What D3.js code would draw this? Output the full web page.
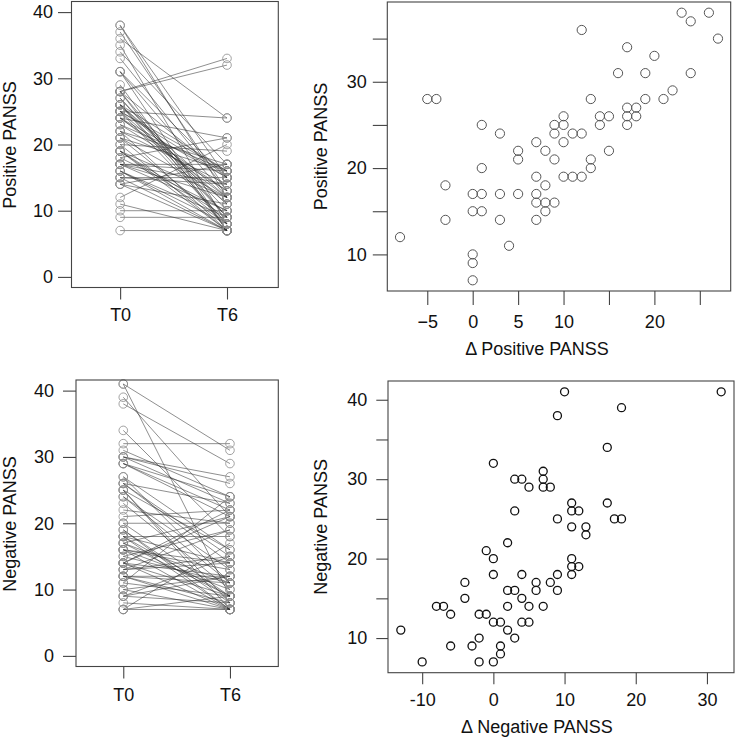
<!DOCTYPE html>
<html>
<head>
<meta charset="utf-8">
<script src="https://cdn.jsdelivr.net/npm/d3@7"></script>
<style>
  html, body { margin: 0; padding: 0; background: #fff; }
  svg { display: block; }
  text { font-family: "Liberation Sans", Arial, Helvetica, sans-serif; fill: #111; }
</style>
</head>
<body>
<svg id="chart" width="735" height="739"></svg>
<script>
// ---------- DATA ----------
// Positive PANSS: baseline score (T0) and change (T0 - T6)
const posT0    = [38,38,37,35,36,34,33,31,31,31,29,28,28,28,28,28,27,27,26,26,26,26,26,25,25,25,25,25,24,24,24,24,23,23,22,22,22,21,21,21,20,20,19,19,19,19,18,18,17,17,17,17,17,16,16,16,15,15,15,14,14,14,12,11,10,9,7];
const posDelta = [23,26,24,27,12,17,20,16,19,24,22,-5,-4,13,19,21,17,18,17,18,14,15,10,17,14,1,9,10,9,11,12,3,10,7,5,8,15,5,9,13,13,1,7,10,11,12,-3,8,0,1,3,5,7,7,8,9,0,1,8,-3,3,7,-8,4,0,0,0];
// Negative PANSS: baseline score (T0) and change (T0 - T6)
const negT0    = [41,41,39,38,34,32,31,30,30,30,29,29,29,27,27,26,26,26,25,25,25,24,24,23,22,21,20,20,19,19,18,18,18,18,17,17,17,16,16,16,16,15,15,14,14,14,14,14,13,13,13,12,12,12,12,11,11,10,10,9,9,9,8,7,7,7];
const negDelta = [10,32,18,9,16,0,7,3,4,7,5,7,8,11,16,11,12,3,9,17,18,11,13,13,2,-1,0,11,11,12,0,4,9,11,-4,6,8,2,3,6,9,-4,4,-8,-7,2,5,7,-6,-2,-1,0,1,4,5,-13,2,-2,3,-6,-3,1,1,-10,-2,0];

const timeLabels = ["T0", "T6"];
const leftYTicks = [0, 10, 20, 30, 40];
const posXTicks = [-5, 0, 5, 10, 15, 20, 25];
const posXLabels = [-5, 0, 5, 10, 20];
const posYTicks = [10, 15, 20, 25, 30, 35];
const posYLabels = [10, 20, 30];
const negXTicks = [-10, 0, 10, 20, 30];
const negYTicks = [10, 15, 20, 25, 30, 35, 40];
const negYLabels = [10, 20, 30, 40];

// ---------- LAYOUT ----------
const svg = d3.select("#chart");
const FONT = 18;

function box(g, b) {
  g.append("rect").attr("x", b.x0).attr("y", b.y0)
    .attr("width", b.x1 - b.x0).attr("height", b.y1 - b.y0)
    .attr("fill", "none").attr("stroke", "#444").attr("stroke-width", 1.1);
}

function styleAxis(sel) {
  sel.select(".domain").remove();
  sel.selectAll(".tick line").attr("stroke", "#444").attr("stroke-width", 1.1);
  sel.selectAll(".tick text").style("font-size", FONT + "px")
    .style("font-family", "'Liberation Sans', Arial, sans-serif").attr("fill", "#111");
}

function yLabel(text, x, y) {
  svg.append("text").attr("transform", `translate(${x},${y}) rotate(-90)`)
    .attr("text-anchor", "middle").style("font-size", FONT + "px").text(text);
}

function fmtMinus(v) { return v < 0 ? "\u2212" + Math.abs(v) : String(v); }

// ---------- PAIRED PANELS (left) ----------
function pairedPanel(t0, delta, b, xDom, yTickSize, yPad, xTickSize, xPad, label, labelY) {
  const g = svg.append("g");
  const x = d3.scaleLinear().domain(xDom).range([b.x0, b.x1]);
  const y = d3.scaleLinear().domain([-1.6, 41.6]).range([b.y1, b.y0]);
  const pairs = t0.map((v, i) => ({ a: v, b: v - delta[i] }));

  g.append("g").selectAll("line").data(pairs).join("line")
    .attr("x1", x(1)).attr("x2", x(2))
    .attr("y1", d => y(d.a)).attr("y2", d => y(d.b))
    .attr("stroke", "#2a2a2a").attr("stroke-opacity", 0.7).attr("stroke-width", 0.75);

  const pts = [];
  pairs.forEach(d => { pts.push({ t: 1, v: d.a }); pts.push({ t: 2, v: d.b }); });
  g.append("g").selectAll("circle").data(pts).join("circle")
    .attr("cx", d => x(d.t)).attr("cy", d => y(d.v)).attr("r", 4.3)
    .attr("fill", "none").attr("stroke", "#8a8a8a").attr("stroke-width", 0.8);

  box(g, b);

  const ya = g.append("g").attr("transform", `translate(${b.x0},0)`)
    .call(d3.axisLeft(y).tickValues(leftYTicks).tickSize(yTickSize).tickPadding(yPad));
  styleAxis(ya);
  const xa = g.append("g").attr("transform", `translate(0,${b.y1})`)
    .call(d3.axisBottom(x).tickValues([1, 2]).tickFormat((d, i) => timeLabels[i])
      .tickSize(xTickSize).tickPadding(xPad));
  styleAxis(xa);

  yLabel(label, 16, labelY);
}

pairedPanel(posT0, posDelta, { x0: 71.5, x1: 278.3, y0: 1.5, y1: 287.5 },
  [0.545, 2.48], 13.5, 5, 12, 9, "Positive PANSS", 145);
pairedPanel(negT0, negDelta, { x0: 76, x1: 278.3, y0: 380, y1: 666.5 },
  [0.557, 2.453], 13, 9, 12, 10, "Negative PANSS", 524);

// ---------- SCATTER PANELS (right) ----------
function scatterPanel(t0, delta, b, xDom, yDom, opts) {
  const g = svg.append("g");
  const x = d3.scaleLinear().domain(xDom).range([b.x0, b.x1]);
  const y = d3.scaleLinear().domain(yDom).range([b.y1, b.y0]);

  g.append("g").selectAll("circle").data(t0.map((v, i) => ({ d: delta[i], v })))
    .join("circle")
    .attr("cx", d => x(d.d)).attr("cy", d => y(d.v)).attr("r", opts.r)
    .attr("fill", "none").attr("stroke", opts.color).attr("stroke-width", opts.sw);

  box(g, b);

  const ya = g.append("g").attr("transform", `translate(${b.x0},0)`)
    .call(d3.axisLeft(y).tickValues(opts.yTicks)
      .tickFormat(d => opts.yLabels.includes(d) ? String(d) : "")
      .tickSize(opts.yTickSize).tickPadding(opts.yPad));
  styleAxis(ya);
  const xa = g.append("g").attr("transform", `translate(0,${b.y1})`)
    .call(d3.axisBottom(x).tickValues(opts.xTicks)
      .tickFormat(d => opts.xLabels.includes(d) ? opts.fmt(d) : "")
      .tickSize(opts.xTickSize).tickPadding(opts.xPad));
  styleAxis(xa);

  svg.append("text").attr("x", opts.xLabelX).attr("y", opts.xLabelY)
    .attr("text-anchor", "middle").style("font-size", FONT + "px").text(opts.xLabel);
  yLabel(opts.yLabel, 327, (b.y0 + b.y1) / 2);
}

scatterPanel(posT0, posDelta, { x0: 387.3, x1: 730.7, y0: 2, y1: 291 },
  [-9.4, 28.4], [5.76, 39.24], {
    r: 4.6, color: "#555", sw: 1,
    yTicks: posYTicks, yLabels: posYLabels, yTickSize: 14.5, yPad: 6,
    xTicks: posXTicks, xLabels: posXLabels, xTickSize: 14, xPad: 10, fmt: fmtMinus,
    xLabel: "\u0394 Positive PANSS", xLabelX: 537, xLabelY: 355,
    yLabel: "Positive PANSS"
  });

scatterPanel(negT0, negDelta, { x0: 388, x1: 734, y0: 381, y1: 672.7 },
  [-14.8, 33.8], [5.64, 42.36], {
    r: 4, color: "#111", sw: 1.3,
    yTicks: negYTicks, yLabels: negYLabels, yTickSize: 11.7, yPad: 9,
    xTicks: negXTicks, xLabels: negXTicks, xTickSize: 11.5, xPad: 9, fmt: d => String(d),
    xLabel: "\u0394 Negative PANSS", xLabelX: 537, xLabelY: 733,
    yLabel: "Negative PANSS"
  });
</script>
</body>
</html>
